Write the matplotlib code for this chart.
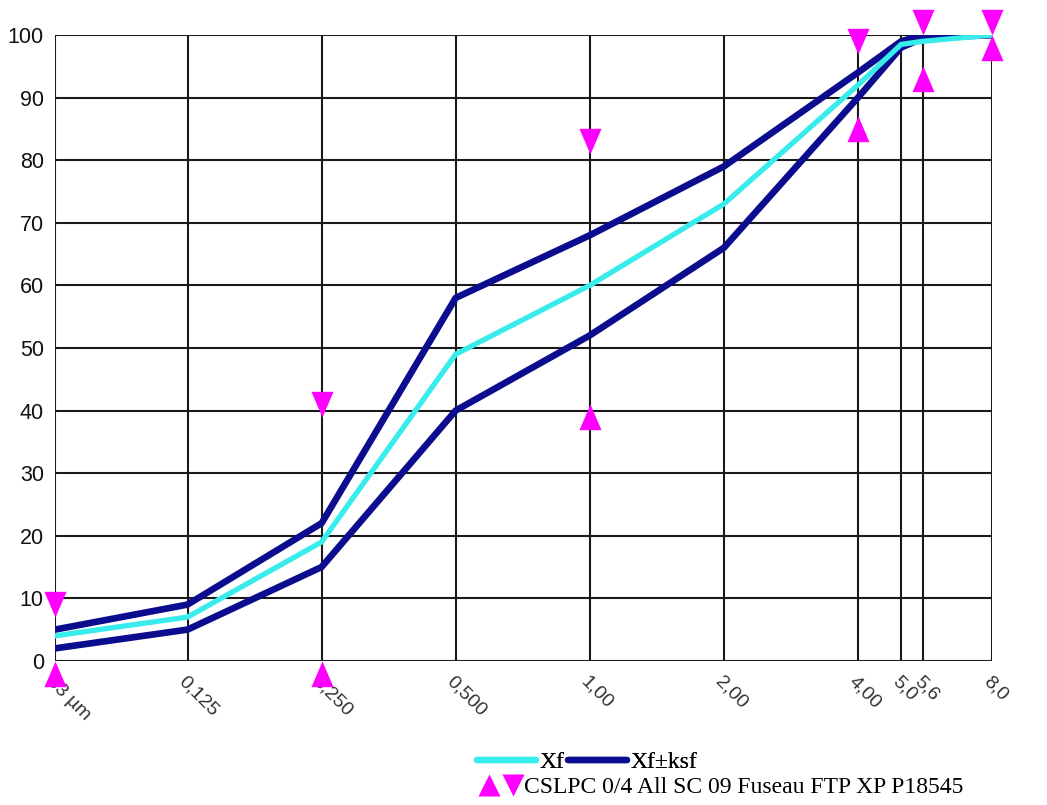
import matplotlib
matplotlib.use("Agg")
import matplotlib.pyplot as plt
from matplotlib.lines import Line2D
from matplotlib.path import Path
from matplotlib.legend_handler import HandlerTuple

# Tamis (mm) et passants cumulés (%)
sieves = [0.063, 0.125, 0.25, 0.5, 1.0, 2.0, 4.0, 5.0, 5.6, 8.0]
sieve_labels = ["63 µm", "0,125", "0,250", "0,500", "1,00", "2,00",
                "4,00", "5,0", "5,6", "8,0"]
xf = [4, 7, 19, 49, 60, 73, 92, 98.5, 99, 100]
xf_plus = [5, 9, 22, 58, 68, 79, 94, 99, 100, 100]
xf_minus = [2, 5, 15, 40, 52, 66, 90, 98, 99.5, 100]

# Fuseau FTP XP P18545
spec_x = [0.063, 0.25, 1.0, 4.0, 5.6, 8.0]
spec_max = [7, 39, 81, 97, 100, 100]
spec_min = [0, 0, 41, 87, 95, 100]

CYAN = "#38ECEC"
NAVY = "#0C0C8E"
MAGENTA = "#FF00FF"

# triangles dont la pointe est sur la valeur
tri_up = Path([(0, 0), (-0.43, -1), (0.43, -1), (0, 0)],
              [Path.MOVETO, Path.LINETO, Path.LINETO, Path.CLOSEPOLY])
tri_down = Path([(0, 0), (-0.43, 1), (0.43, 1), (0, 0)],
                [Path.MOVETO, Path.LINETO, Path.LINETO, Path.CLOSEPOLY])

fig = plt.figure(figsize=(10.47, 8.05), dpi=100)
ax = fig.add_axes([0.0525, 0.179, 0.895, 0.7775])

ax.plot(sieves, xf_plus, color=NAVY, lw=4.8, solid_capstyle="round", zorder=3)
ax.plot(sieves, xf_minus, color=NAVY, lw=4.8, solid_capstyle="round", zorder=3)
ax.plot(sieves, xf, color=CYAN, lw=3.8, solid_capstyle="round", zorder=4)

ax.plot(spec_x, spec_max, ls="none", marker=tri_down, ms=37, mfc=MAGENTA,
        mec="none", clip_on=False, zorder=5)
ax.plot(spec_x, spec_min, ls="none", marker=tri_up, ms=37, mfc=MAGENTA,
        mec="none", clip_on=False, zorder=5)

ax.set_xscale("log")
ax.set_xlim(0.063, 8.0)
ax.set_ylim(0, 100)
ax.set_xticks(sieves)
ax.set_xticklabels(sieve_labels, rotation=-45, ha="left", va="top",
                   rotation_mode="anchor", fontsize=14, color="#333333",
                   family="Liberation Sans")
ax.xaxis.set_minor_locator(matplotlib.ticker.NullLocator())
ax.set_yticks(range(0, 101, 10))
ax.set_yticklabels([str(v) for v in range(0, 101, 10)], fontsize=15.5,
                   family="Liberation Sans", color="#111111")
ax.tick_params(axis="both", length=0)
ax.tick_params(axis="x", pad=9)
ax.tick_params(axis="y", pad=8)
ax.grid(True, color="#1a1a1a", lw=1.5, zorder=1)
for s in ax.spines.values():
    s.set_visible(False)

# légende
h_xf = Line2D([], [], color=CYAN, lw=4.6, solid_capstyle="round")
h_ksf = Line2D([], [], color=NAVY, lw=4.6, solid_capstyle="round")
leg1 = fig.legend([h_xf, h_ksf], ["Xf", "Xf±ksf"], ncol=2, frameon=False,
                  loc="center left", bbox_to_anchor=(0.4355, 0.053),
                  handlelength=2.5, handletextpad=0.15, columnspacing=0.15,
                  prop={"family": "Liberation Serif", "size": 17})
h_up = Line2D([], [], ls="none", marker="^", ms=16, mfc=MAGENTA, mec="none")
h_dn = Line2D([], [], ls="none", marker="v", ms=16, mfc=MAGENTA, mec="none")
leg2 = fig.legend([(h_up, h_dn)], ["CSLPC 0/4 All SC 09 Fuseau FTP XP P18545"],
                  frameon=False, loc="center left",
                  bbox_to_anchor=(0.4355, 0.022),
                  handler_map={tuple: HandlerTuple(ndivide=None, pad=0)},
                  handlelength=2.0, handletextpad=0.0,
                  prop={"family": "Liberation Serif", "size": 17})
fig.add_artist(leg1)

fig.savefig("out.png", dpi=100)
